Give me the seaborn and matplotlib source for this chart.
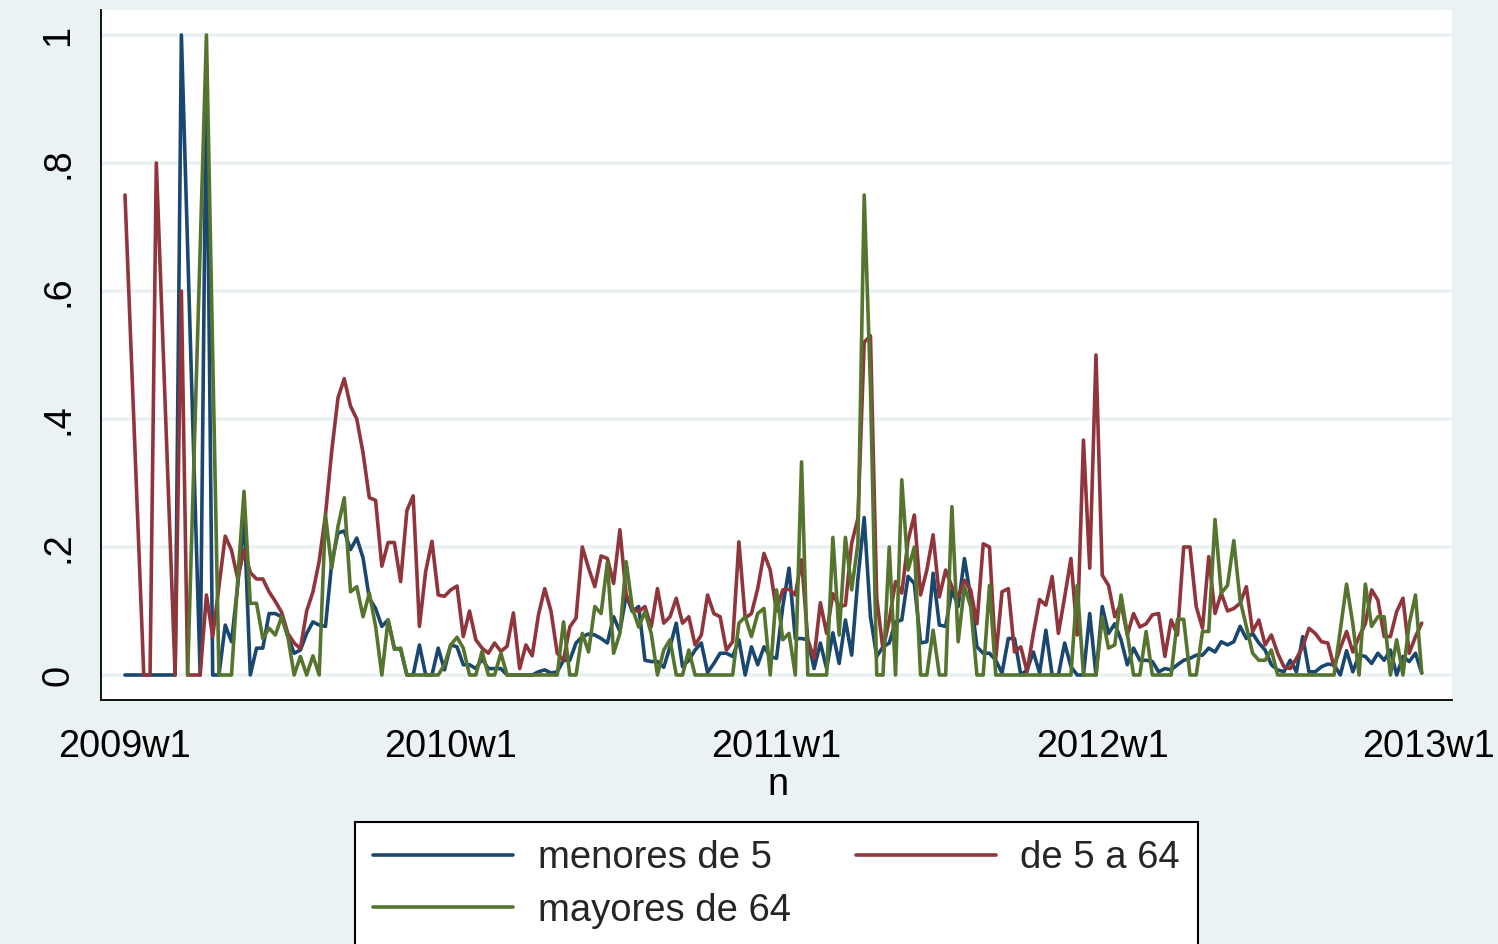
import numpy as np
import pandas as pd
import matplotlib
matplotlib.use("Agg")
import matplotlib.pyplot as plt
import seaborn as sns

nan = np.nan

# ---- data (weekly shares, 2009w1 .. 2012w52); NaN = missing week ----
menores_de_5 = [
    0, 0, 0, 0, 0, 0, 0, 0, 0, 1.0,
    nan, nan, 0, 0.95, 0, 0, 0.078, 0.052, 0.14, 0.25,
    0, 0.042, 0.042, 0.096, 0.096, 0.091, 0.06, 0.034, 0.039, 0.065,
    0.083, 0.078, 0.076, 0.175, 0.222, 0.225, 0.196, 0.214, 0.183, 0.12,
    0.104, 0.076, 0.086, 0.042, 0.04, 0, 0, 0.047, 0, 0,
    0.042, 0.008, 0.047, 0.044, 0.016, 0.016, 0.01, 0.025, 0.01, 0.01,
    0.01, 0, 0, 0, 0, 0, 0.005, 0.008, 0.003, 0.005,
    0.023, 0.023, 0.05, 0.06, 0.064, 0.0625, 0.057, 0.05, 0.091, 0.068,
    0.125, 0.099, 0.107, 0.023, 0.021, 0.021, 0.012, 0.044, 0.081, 0.013,
    0.023, 0.039, 0.05, 0.004, 0.018, 0.034, 0.034, 0.029, 0.055, 0,
    0.044, 0.016, 0.044, 0.029, 0.026, 0.107, 0.167, 0.057, 0.057, 0.055,
    0.01, 0.05, 0.01, 0.066, 0.018, 0.086, 0.031, 0.151, 0.246, 0.091,
    0.029, 0.044, 0.05, 0.083, 0.086, 0.154, 0.143, 0.05, 0.052, 0.159,
    0.078, 0.076, 0.133, 0.107, 0.182, 0.122, 0.044, 0.034, 0.034, 0.023,
    0.003, 0.057, 0.057, 0, 0.008, 0.036, 0.003, 0.07, 0, 0,
    0.05, 0.013, 0, 0, 0.096, 0, 0.107, 0.065, 0.08, 0.055,
    0.016, 0.042, 0.023, 0.023, 0.021, 0.005, 0.01, 0.008, 0.016, 0.023,
    0.026, 0.031, 0.031, 0.042, 0.036, 0.052, 0.047, 0.052, 0.076, 0.057,
    0.065, 0.05, 0.039, 0.016, 0.008, 0.005, 0.023, 0.005, 0.06, 0.005,
    0.005, 0.013, 0.017, 0.016, 0, 0.038, 0.005, 0.031, 0.029, 0.018,
    0.034, 0.023, 0.039, 0, 0.029, 0.021, 0.034, 0.003,
]

de_5_a_64 = [
    0.75, nan, nan, 0, 0, 0.8, nan, nan, 0, 0.6,
    0, 0, 0, 0.125, 0.06, 0.138, 0.217, 0.195, 0.15, 0.196,
    0.16, 0.15, 0.15, 0.13, 0.115, 0.098, 0.065, 0.05, 0.041, 0.10,
    0.13, 0.178, 0.25, 0.35, 0.433, 0.463, 0.42, 0.40, 0.347, 0.277,
    0.273, 0.17, 0.207, 0.207, 0.146, 0.257, 0.28, 0.076, 0.162, 0.209,
    0.125, 0.123, 0.133, 0.139, 0.06, 0.10, 0.055, 0.042, 0.034, 0.05,
    0.037, 0.045, 0.097, 0.01, 0.047, 0.03, 0.094, 0.135, 0.10, 0.034,
    0.023, 0.075, 0.089, 0.20, 0.167, 0.138, 0.186, 0.182, 0.143, 0.227,
    0.125, 0.104, 0.099, 0.107, 0.075, 0.135, 0.081, 0.091, 0.12, 0.081,
    0.091, 0.047, 0.0625, 0.125, 0.096, 0.091, 0.039, 0.052, 0.208, 0.089,
    0.096, 0.135, 0.19, 0.164, 0.10, 0.133, 0.134, 0.125, 0.18, 0.055,
    0.026, 0.113, 0.065, 0.127, 0.107, 0.109, 0.206, 0.245, 0.52, 0.53,
    0.12, 0.04, 0.086, 0.146, 0.128, 0.21, 0.25, 0.125, 0.164, 0.219,
    0.122, 0.164, 0.138, 0.122, 0.148, 0.133, 0.08, 0.205, 0.2, 0.026,
    0.13, 0.135, 0.036, 0.044, 0.005, 0.065, 0.118, 0.109, 0.154, 0.065,
    0.122, 0.182, 0.0625, 0.367, 0.167, 0.5, 0.156, 0.14, 0.091, 0.112,
    0.0625, 0.096, 0.075, 0.08, 0.094, 0.096, 0.029, 0.086, 0.0625, 0.2,
    0.2, 0.107, 0.073, 0.185, 0.096, 0.128, 0.10, 0.104, 0.112, 0.138,
    0.068, 0.086, 0.047, 0.0625, 0.034, 0.013, 0.01, 0.026, 0.044, 0.073,
    0.065, 0.052, 0.05, 0.013, 0.042, 0.068, 0.036, 0.06, 0.08, 0.133,
    0.117, 0.06, 0.06, 0.099, 0.12, 0.034, 0.06, 0.081,
]

mayores_de_64 = [
    nan, nan, nan, nan, nan, nan, nan, nan, nan, nan,
    0, nan, nan, 1.0, nan, 0, 0, 0, 0.15, 0.287,
    0.112, 0.112, 0.057, 0.073, 0.0625, 0.091, 0.06, 0, 0.029, 0,
    0.03, 0, 0.25, 0.167, 0.232, 0.277, 0.13, 0.138, 0.091, 0.128,
    0.076, 0, 0.086, 0.04, 0.042, 0, 0, 0, 0, 0,
    0, 0.016, 0.047, 0.059, 0.042, 0, 0, 0.037, 0, 0,
    0.034, 0, 0, 0, 0, 0, 0, 0, 0, 0,
    0.083, 0, 0, 0.065, 0.036, 0.107, 0.096, 0.176, 0.034, 0.065,
    0.177, 0.104, 0.075, 0.099, 0.065, 0, 0.039, 0.055, 0, 0,
    0.039, 0, 0, 0, 0, 0, 0, 0, 0.081, 0.091,
    0.06, 0.096, 0.104, 0, 0.133, 0.055, 0.065, 0, 0.333, 0,
    0, 0, 0, 0.215, 0.0625, 0.215, 0.133, 0.206, 0.75, 0.45,
    0, 0, 0.2, 0, 0.305, 0.164, 0.2, 0, 0, 0.07,
    0, 0, 0.263, 0.052, 0.138, 0.107, 0, 0, 0.14, 0,
    0, 0, 0, 0, 0, 0, 0, 0, 0, 0,
    0, 0, 0.14, 0, 0, 0, 0.091, 0.042, 0.047, 0.125,
    0.065, 0, 0, 0.068, 0, 0, 0, 0, 0.087, 0.087,
    0, 0, 0.068, 0.068, 0.243, 0.128, 0.14, 0.21, 0.117, 0.076,
    0.034, 0.023, 0.023, 0.039, 0, 0, 0, 0, 0, 0,
    0, 0, 0, 0, 0.07, 0.142, 0.08, 0, 0.142, 0.076,
    0.091, 0.091, 0, 0.055, 0, 0.08, 0.125, 0.003,
]

series_names = ["menores de 5", "de 5 a 64", "mayores de 64"]
series_colors = ["#1A476F", "#90353B", "#55752F"]
x_tick_labels = ["2009w1", "2010w1", "2011w1", "2012w1", "2013w1"]
y_ticks = [0, 0.2, 0.4, 0.6, 0.8, 1.0]
y_tick_labels = ["0", ".2", ".4", ".6", ".8", "1"]
x_title = "n"

# ---- build long table ----
weeks = np.arange(len(menores_de_5))
frames = []
for name, vals in zip(series_names, [menores_de_5, de_5_a_64, mayores_de_64]):
    frames.append(pd.DataFrame({"n": weeks, "valor": vals, "serie": name}))
df = pd.concat(frames, ignore_index=True).dropna()  # connect across missing, like Stata

# ---- style ----
sns.set_style("white")
plt.rcParams["font.family"] = ["Liberation Sans", "DejaVu Sans"]

BG = "#EAF2F3"
W, H = 1498, 944
LW = 2.6
fig = plt.figure(figsize=(W / 100, H / 100), dpi=100, facecolor=BG)
ax = fig.add_axes([101 / W, 1 - 700 / H, (1452 - 101) / W, 690 / H])
ax.set_facecolor("white")

sns.lineplot(
    data=df, x="n", y="valor", hue="serie", hue_order=series_names,
    palette=dict(zip(series_names, series_colors)), linewidth=LW,
    estimator=None, ax=ax, legend=True,
)

# axes limits
x_tick_pos = [(int(lab[:4]) - 2009) * 52 for lab in x_tick_labels]
px_per_week = (1428 - 125) / 208
ax.set_xlim(-(125 - 101) / px_per_week, 208 + (1452 - 1428) / px_per_week)
ax.set_ylim(-25 / 640, 1 + 25 / 640)

ax.set_xticks(x_tick_pos)
ax.set_xticklabels(x_tick_labels)
ax.set_yticks(y_ticks)
ax.set_yticklabels(y_tick_labels, rotation=90, va="center")

ax.tick_params(axis="both", direction="out", length=7, width=1.3,
               color="black", labelsize=27.3, labelcolor="black")
ax.tick_params(axis="x", pad=14)
ax.tick_params(axis="y", pad=11)

ax.yaxis.grid(True, color=BG, linewidth=2.6)
ax.xaxis.grid(False)
ax.set_axisbelow(True)

for s in ["top", "right"]:
    ax.spines[s].set_visible(False)
for s in ["left", "bottom"]:
    ax.spines[s].set_color("black")
    ax.spines[s].set_linewidth(1.3)

ax.set_ylabel("")
ax.set_xlabel(x_title, fontsize=27.3, color="black")
ax.xaxis.set_label_coords((778 - 101) / (1452 - 101), -(767 - 700) / 690)

# ---- legend ----
handles, labels = ax.get_legend_handles_labels()
ax.get_legend().remove()
hmap = dict(zip(labels, handles))
order = ["menores de 5", "mayores de 64", "de 5 a 64"]
leg = fig.legend(
    [hmap[o] for o in order], order,
    loc="upper left", bbox_to_anchor=(355 / W, 1 - 822 / H),
    bbox_transform=fig.transFigure, borderaxespad=0,
    ncol=2, fontsize=27.5, handlelength=3.66, handletextpad=0.65,
    columnspacing=1.7, labelspacing=0.43, borderpad=0.48,
    frameon=True, fancybox=False, shadow=False, framealpha=1,
)
leg.get_frame().set_edgecolor("black")
leg.get_frame().set_linewidth(1.5)
leg.get_frame().set_facecolor("white")
for line in leg.get_lines():
    line.set_linewidth(LW)

fig.savefig("out.png", dpi=100, facecolor=fig.get_facecolor())
